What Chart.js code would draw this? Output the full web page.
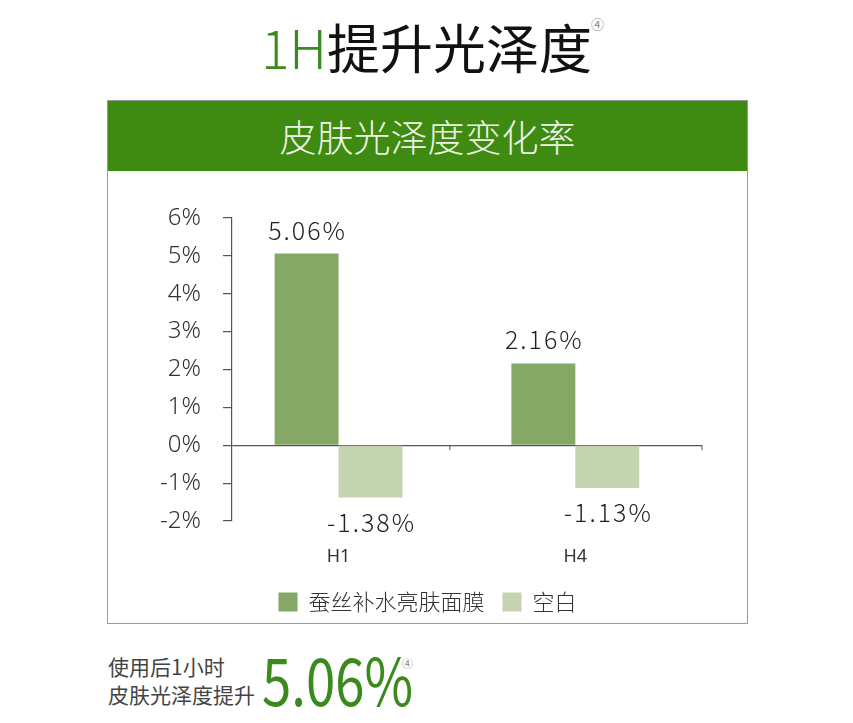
<!DOCTYPE html>
<html>
<head>
<meta charset="utf-8">
<script src="https://cdn.jsdelivr.net/npm/chart.js@4.4.1/dist/chart.umd.min.js"></script>
<style>
  body { margin: 0; width: 853px; height: 723px; background: #fff; position: relative; overflow: hidden;
         font-family: "Noto Sans CJK SC", "Noto Sans", sans-serif; }
  #title { position: absolute; left: 0; width: 853px; top: 11px; text-align: center; font-size: 53px;
           font-weight: 400; color: #111; line-height: 70px; }
  #title .g { color: #3b8a1c; font-weight: 300; }
  #tsup { position: absolute; left: 591px; top: 14px; font-size: 13px; color: #888; }
  #frame { position: absolute; left: 107px; top: 100px; width: 639px; height: 522px; border: 1px solid #999; }
  #head { height: 70px; background: #3f8a10; color: #eef5e6; font-size: 37px; text-align: center;
          line-height: 70px; font-weight: 300; }
  #wrap { position: absolute; left: 0; top: 70px; width: 639px; height: 452px; }
  #note { position: absolute; left: 108px; top: 652px; font-size: 21px; color: #444; line-height: 28px; font-weight: 400; }
  #big { position: absolute; left: 262px; top: 632px; font-size: 66px; color: #3c8a1e; line-height: 90px;
         font-weight: 400; transform: scaleX(0.8); transform-origin: left center; }
  #bigsup { position: absolute; left: 402px; top: 655px; font-size: 11px; color: #888; }
</style>
</head>
<body>
<div id="title"><span class="g">1H</span>提升光泽度</div>
<div id="tsup">④</div>
<div id="frame">
  <div id="head">皮肤光泽度变化率</div>
  <div id="wrap"><canvas id="chart"></canvas></div>
</div>
<div id="note">使用后1小时<br>皮肤光泽度提升</div>
<div id="big">5.06%</div>
<div id="bigsup">④</div>
<script>
const categories = ['H1', 'H4']
const seriesNames = ['蚕丝补水亮肤面膜', '空白']
const maskValues = [5.06, 2.16]
const blankValues = [-1.38, -1.13]
const yTicks = [-2, -1, 0, 1, 2, 3, 4, 5, 6]

const valueLabels = {
    id: 'valueLabels',
    afterDatasetsDraw(chart) {
        const ctx = chart.ctx
        ctx.save()
        ctx.font = '300 25px "Noto Sans CJK SC", sans-serif'
        ctx.letterSpacing = '2px'
        ctx.fillStyle = '#222'
        ctx.textAlign = 'center'
        ctx.textBaseline = 'alphabetic'
        chart.data.datasets.forEach((ds, i) => {
            chart.getDatasetMeta(i).data.forEach((bar, j) => {
                const v = ds.data[j].y
                const txt = v.toFixed(2) + '%'
                if (v >= 0) ctx.fillText(txt, bar.x + 1, bar.y - 14)
                else ctx.fillText(txt, bar.x + 1, bar.y + 34)
            })
        })
        ctx.letterSpacing = '0px'
        // small ticks on the zero line between categories and at the end
        const xs = chart.scales.x
        const y0 = chart.scales.y.getPixelForValue(0)
        ctx.strokeStyle = '#555'
        ctx.lineWidth = 1
        const marks = categories.map((c, i) => i < categories.length - 1 ? xs.getPixelForValue(i + 0.47) : xs.right)
        marks.forEach(bx => {
            ctx.beginPath()
            ctx.moveTo(bx, y0)
            ctx.lineTo(bx, y0 + 5)
            ctx.stroke()
        })
        ctx.restore()
    }
}

new Chart(document.getElementById('chart'), {
    type: 'bar',
    data: {
        datasets: [{
            label: seriesNames[0],
            data: maskValues.map((v, i) => ({ x: i, y: v })),
            backgroundColor: '#85a866'
        }, {
            label: seriesNames[1],
            data: blankValues.map((v, i) => ({ x: i, y: v })),
            backgroundColor: '#c4d4b0'
        }]
    },
    options: {
        responsive: true,
        maintainAspectRatio: false,
        animation: false,
        layout: { padding: { top: 47, right: 0, left: 0, bottom: 0 } },
        datasets: { bar: { categoryPercentage: 0.54, barPercentage: 1 } },
        plugins: {
            tooltip: { enabled: false },
            legend: {
                position: 'bottom',
                labels: {
                    boxWidth: 19, boxHeight: 19, padding: 18,
                    color: '#333',
                    font: { size: 22, family: '"Noto Sans CJK SC", sans-serif', weight: '300' }
                }
            }
        },
        scales: {
            x: {
                type: 'linear',
                offset: false,
                bounds: 'ticks',
                min: -0.45,
                max: 1.535,
                afterBuildTicks: s => { s.ticks = categories.map((c, i) => ({ value: i })) },
                grid: { display: false },
                border: { display: false },
                ticks: {
                    color: '#333', padding: 17,
                    font: { size: 18, family: '"Noto Sans", sans-serif' },
                    callback: v => categories[v]
                },
                afterFit: s => { s.height = 52 }
            },
            y: {
                min: -2,
                max: 6,
                afterBuildTicks: s => { s.ticks = yTicks.map(v => ({ value: v })) },
                grid: {
                    color: c => c.tick && c.tick.value === 0 ? '#555' : 'transparent',
                    tickColor: '#555',
                    tickLength: 9,
                    lineWidth: 1.2
                },
                border: { display: true, color: '#555', width: 1.2 },
                ticks: {
                    color: '#333', padding: 22,
                    font: { size: 24, family: '"Noto Sans", sans-serif', weight: '300' },
                    callback: v => v + '%'
                },
                afterFit: s => { s.width = 124 }
            },
            // empty right-hand strip so the plot ends where the reference does
            yRight: {
                position: 'right',
                min: -2,
                max: 6,
                grid: { display: false },
                border: { display: false },
                ticks: { display: false },
                afterFit: s => { s.width = 45 }
            }
        }
    },
    plugins: [valueLabels]
})
</script>
</body>
</html>
